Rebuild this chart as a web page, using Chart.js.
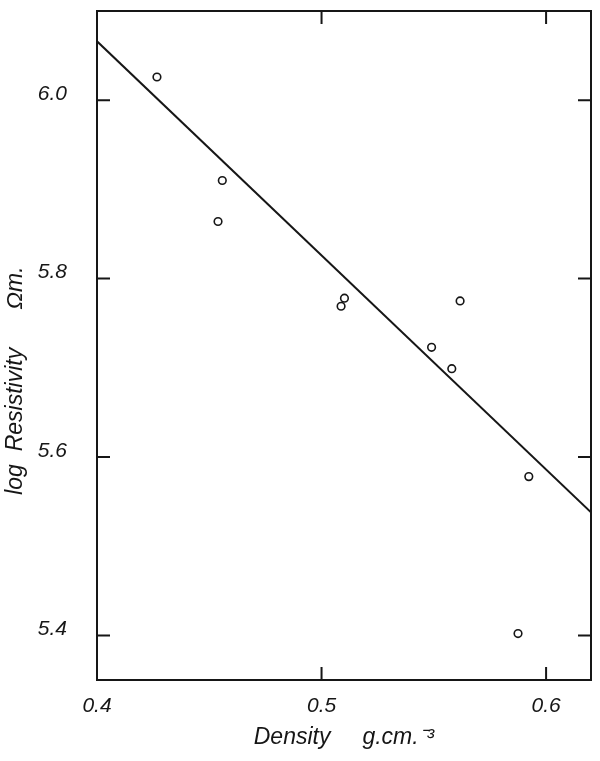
<!DOCTYPE html>
<html>
<head>
<meta charset="utf-8">
<script src="https://cdn.jsdelivr.net/npm/chart.js@4/dist/chart.umd.min.js"></script>
<style>
  html, body { margin: 0; padding: 0; background: #ffffff; }
  #wrap { width: 600px; height: 761px; }
</style>
</head>
<body>
<div id="wrap"><canvas id="c" width="600" height="761"></canvas></div>
<script>
// ---- data ----
const densityValues = [0.4267, 0.4558, 0.4539, 0.5102, 0.5087, 0.5617, 0.5490, 0.5580, 0.5923, 0.5875];
const logResistivity = [6.026, 5.910, 5.864, 5.778, 5.769, 5.775, 5.723, 5.699, 5.578, 5.402];
const fitLineX = [0.40, 0.62];
const fitLineY = [6.066, 5.538];
const xTickValues = [0.4, 0.5, 0.6];
const yTickValues = [5.4, 5.6, 5.8, 6.0];
const xTitle = 'Density     g.cm.\u207B\u00B3';
const yTitle = 'log  Resistivity      \u03A9m.           ';

const FONT = "'Liberation Sans', Arial, sans-serif";
const INK = '#161616';

const scatterData = densityValues.map((x, i) => ({ x: x, y: logResistivity[i] }));
const lineData = fitLineX.map((x, i) => ({ x: x, y: fitLineY[i] }));

const framePlugin = {
  id: 'frameAndTicks',
  afterDatasetsDraw(chart) {
    const { ctx, chartArea: a, scales } = chart;
    const xs = scales.x, ys = scales.y;
    const L = 13;
    ctx.save();
    ctx.strokeStyle = INK;
    ctx.lineWidth = 2;
    ctx.strokeRect(a.left, a.top, a.right - a.left, a.bottom - a.top);
    ctx.beginPath();
    xTickValues.forEach(v => {
      const px = xs.getPixelForValue(v);
      if (px <= a.left + 1 || px >= a.right - 1) return;
      ctx.moveTo(px, a.bottom); ctx.lineTo(px, a.bottom - L);
      ctx.moveTo(px, a.top); ctx.lineTo(px, a.top + L);
    });
    yTickValues.forEach(v => {
      const py = ys.getPixelForValue(v);
      if (py <= a.top + 1 || py >= a.bottom - 1) return;
      ctx.moveTo(a.left, py); ctx.lineTo(a.left + L, py);
      ctx.moveTo(a.right, py); ctx.lineTo(a.right - L, py);
    });
    ctx.stroke();
    ctx.restore();
  }
};

new Chart(document.getElementById('c'), {
  type: 'scatter',
  data: {
    datasets: [
      {
        type: 'line',
        data: lineData,
        borderColor: INK,
        borderWidth: 2,
        pointRadius: 0,
        fill: false,
        tension: 0
      },
      {
        type: 'scatter',
        data: scatterData,
        pointStyle: 'circle',
        pointRadius: 3.8,
        pointBorderWidth: 1.6,
        pointBorderColor: INK,
        pointBackgroundColor: 'rgba(255,255,255,0)'
      }
    ]
  },
  options: {
    responsive: false,
    animation: false,
    layout: { autoPadding: false, padding: { top: 11, right: 9, left: 0, bottom: 0 } },
    plugins: { legend: { display: false }, tooltip: { enabled: false } },
    scales: {
      x: {
        type: 'linear',
        min: 0.4,
        max: 0.62,
        afterBuildTicks(scale) { scale.ticks = xTickValues.map(v => ({ value: v })); },
        afterFit(scale) { scale.height = 81; scale.paddingLeft = 0; scale.paddingRight = 0; },
        grid: { display: false, drawTicks: false },
        border: { display: false },
        ticks: {
          padding: 14,
          color: INK,
          font: { family: FONT, size: 21, style: 'italic' },
          callback: v => Number(v).toFixed(1)
        },
        title: {
          display: true,
          text: xTitle,
          color: INK,
          font: { family: FONT, size: 23, style: 'italic' },
          padding: { top: 0, bottom: 10 }
        }
      },
      y: {
        type: 'linear',
        min: 5.35,
        max: 6.1,
        afterBuildTicks(scale) { scale.ticks = yTickValues.map(v => ({ value: v })); },
        afterFit(scale) { scale.width = 97; scale.paddingTop = 0; scale.paddingBottom = 0; },
        grid: { display: false, drawTicks: false },
        border: { display: false },
        ticks: {
          padding: 30,
          labelOffset: -6,
          color: INK,
          font: { family: FONT, size: 21, style: 'italic' },
          callback: v => Number(v).toFixed(1)
        },
        title: {
          display: true,
          text: yTitle,
          color: INK,
          font: { family: FONT, size: 23, style: 'italic' },
          padding: { top: 2, bottom: 0 }
        }
      }
    }
  },
  plugins: [framePlugin]
});
</script>
</body>
</html>
